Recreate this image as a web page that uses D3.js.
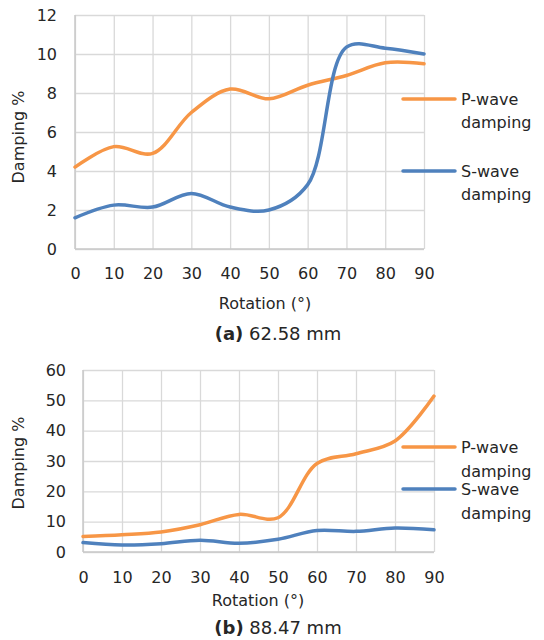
<!DOCTYPE html>
<html>
<head>
<meta charset="utf-8">
<script src="https://cdn.jsdelivr.net/npm/d3@7"></script>
<style>
body{margin:0;background:#fff;}
svg text{font-family:"Century Gothic","DejaVu Sans",sans-serif;fill:#262626;}
</style>
</head>
<body>
<svg id="chart" width="544" height="640"></svg>
<script>
// rotation angles (deg)
var rotation=[0,10,20,30,40,50,60,70,80,90];
// (a) 62.58 mm
var pWaveA=[4.2,5.25,4.9,7.0,8.2,7.7,8.4,8.9,9.55,9.5];
var sWaveA=[1.6,2.25,2.15,2.85,2.15,2.0,3.3,10.35,10.3,10.0];
var yTicksA=[0,2,4,6,8,10,12];
// (b) 88.47 mm
var pWaveB=[5.1,5.7,6.6,9.0,12.4,11.3,29.2,32.4,36.6,51.4];
var sWaveB=[3.1,2.3,2.7,3.9,2.9,4.2,7.1,6.8,7.9,7.3];
var yTicksB=[0,10,20,30,40,50,60];

var colP="#F79646",colS="#4F81BD";
var svg=d3.select("#chart");

//画一张图
var drawChart=function(opt){
	var x=d3.scaleLinear().domain([0,90]).range([opt.left,opt.right]);
	var y=d3.scaleLinear().domain([0,opt.ymax]).range([opt.bottom,opt.top]);
	var g=svg.append("g");
	//网格+纵坐标
	g.append("g")
		.attr("transform","translate("+opt.left+",0)")
		.call(d3.axisLeft(y).tickValues(opt.yTicks).tickSize(-(opt.right-opt.left)).tickPadding(opt.ypad));
	//网格+横坐标
	g.append("g")
		.attr("transform","translate(0,"+opt.bottom+")")
		.call(d3.axisBottom(x).tickValues(rotation).tickSize(-(opt.bottom-opt.top)).tickPadding(opt.xpad));
	g.selectAll(".domain").remove();
	g.selectAll(".tick line").attr("stroke","#d9d9d9").attr("stroke-width",1.3);
	g.selectAll(".tick text").style("font-size","16px");
	//坐标轴线
	g.append("line").attr("x1",opt.left).attr("x2",opt.left).attr("y1",opt.top).attr("y2",opt.bottom)
		.attr("stroke","#c8c8c8").attr("stroke-width",1.5);
	g.append("line").attr("x1",opt.left).attr("x2",opt.right).attr("y1",opt.bottom).attr("y2",opt.bottom)
		.attr("stroke","#c8c8c8").attr("stroke-width",1.5);
	//曲线
	var line=d3.line()
		.x(function(d,i){return x(rotation[i]);})
		.y(function(d){return y(d);})
		.curve(d3.curveCatmullRom.alpha(0.5));
	[[opt.p,colP],[opt.s,colS]].forEach(function(s){
		g.append("path").datum(s[0])
			.attr("fill","none").attr("stroke",s[1])
			.attr("stroke-width",3.5).attr("stroke-linecap","round")
			.attr("d",line);
	});
	//图例
	[[opt.legP,colP,"P-wave"],[opt.legS,colS,"S-wave"]].forEach(function(l){
		g.append("line").attr("x1",403).attr("x2",455).attr("y1",l[0]).attr("y2",l[0])
			.attr("stroke",l[1]).attr("stroke-width",3.5).attr("stroke-linecap","round");
		var t=g.append("text").attr("x",461).attr("y",l[0]).attr("dy","0.35em").style("font-size","16px");
		t.append("tspan").text(l[2]);
		t.append("tspan").attr("x",461).attr("dy",opt.legGap).text("damping");
	});
	//标题
	g.append("text").attr("transform","translate(18,"+opt.ytitle+") rotate(-90)")
		.attr("text-anchor","middle").attr("dy","0.35em").style("font-size","16px").text("Damping %");
	g.append("text").attr("x",opt.xtitleX).attr("y",opt.xtitleY).attr("dy","0.35em")
		.attr("text-anchor","middle").style("font-size","16px").text("Rotation (°)");
	var cap=g.append("text").attr("x",278).attr("y",opt.capY).attr("dy","0.35em")
		.attr("text-anchor","middle").style("font-size","18px");
	cap.append("tspan").style("font-weight","bold").text(opt.capB);
	cap.append("tspan").text(" "+opt.cap);
};

drawChart({left:75,right:424,top:15,bottom:249,ymax:12,yTicks:yTicksA,ypad:18,xpad:19,legGap:23,
	p:pWaveA,s:sWaveA,legP:99,legS:171,ytitle:137,xtitleX:265,xtitleY:303,capY:334,capB:"(a)",cap:"62.58 mm"});
drawChart({left:83,right:434,top:370,bottom:552,ymax:60,yTicks:yTicksB,ypad:17,xpad:20,legGap:24,
	p:pWaveB,s:sWaveB,legP:447,legS:489,ytitle:463,xtitleX:258,xtitleY:600,capY:628,capB:"(b)",cap:"88.47 mm"});
</script>
</body>
</html>
